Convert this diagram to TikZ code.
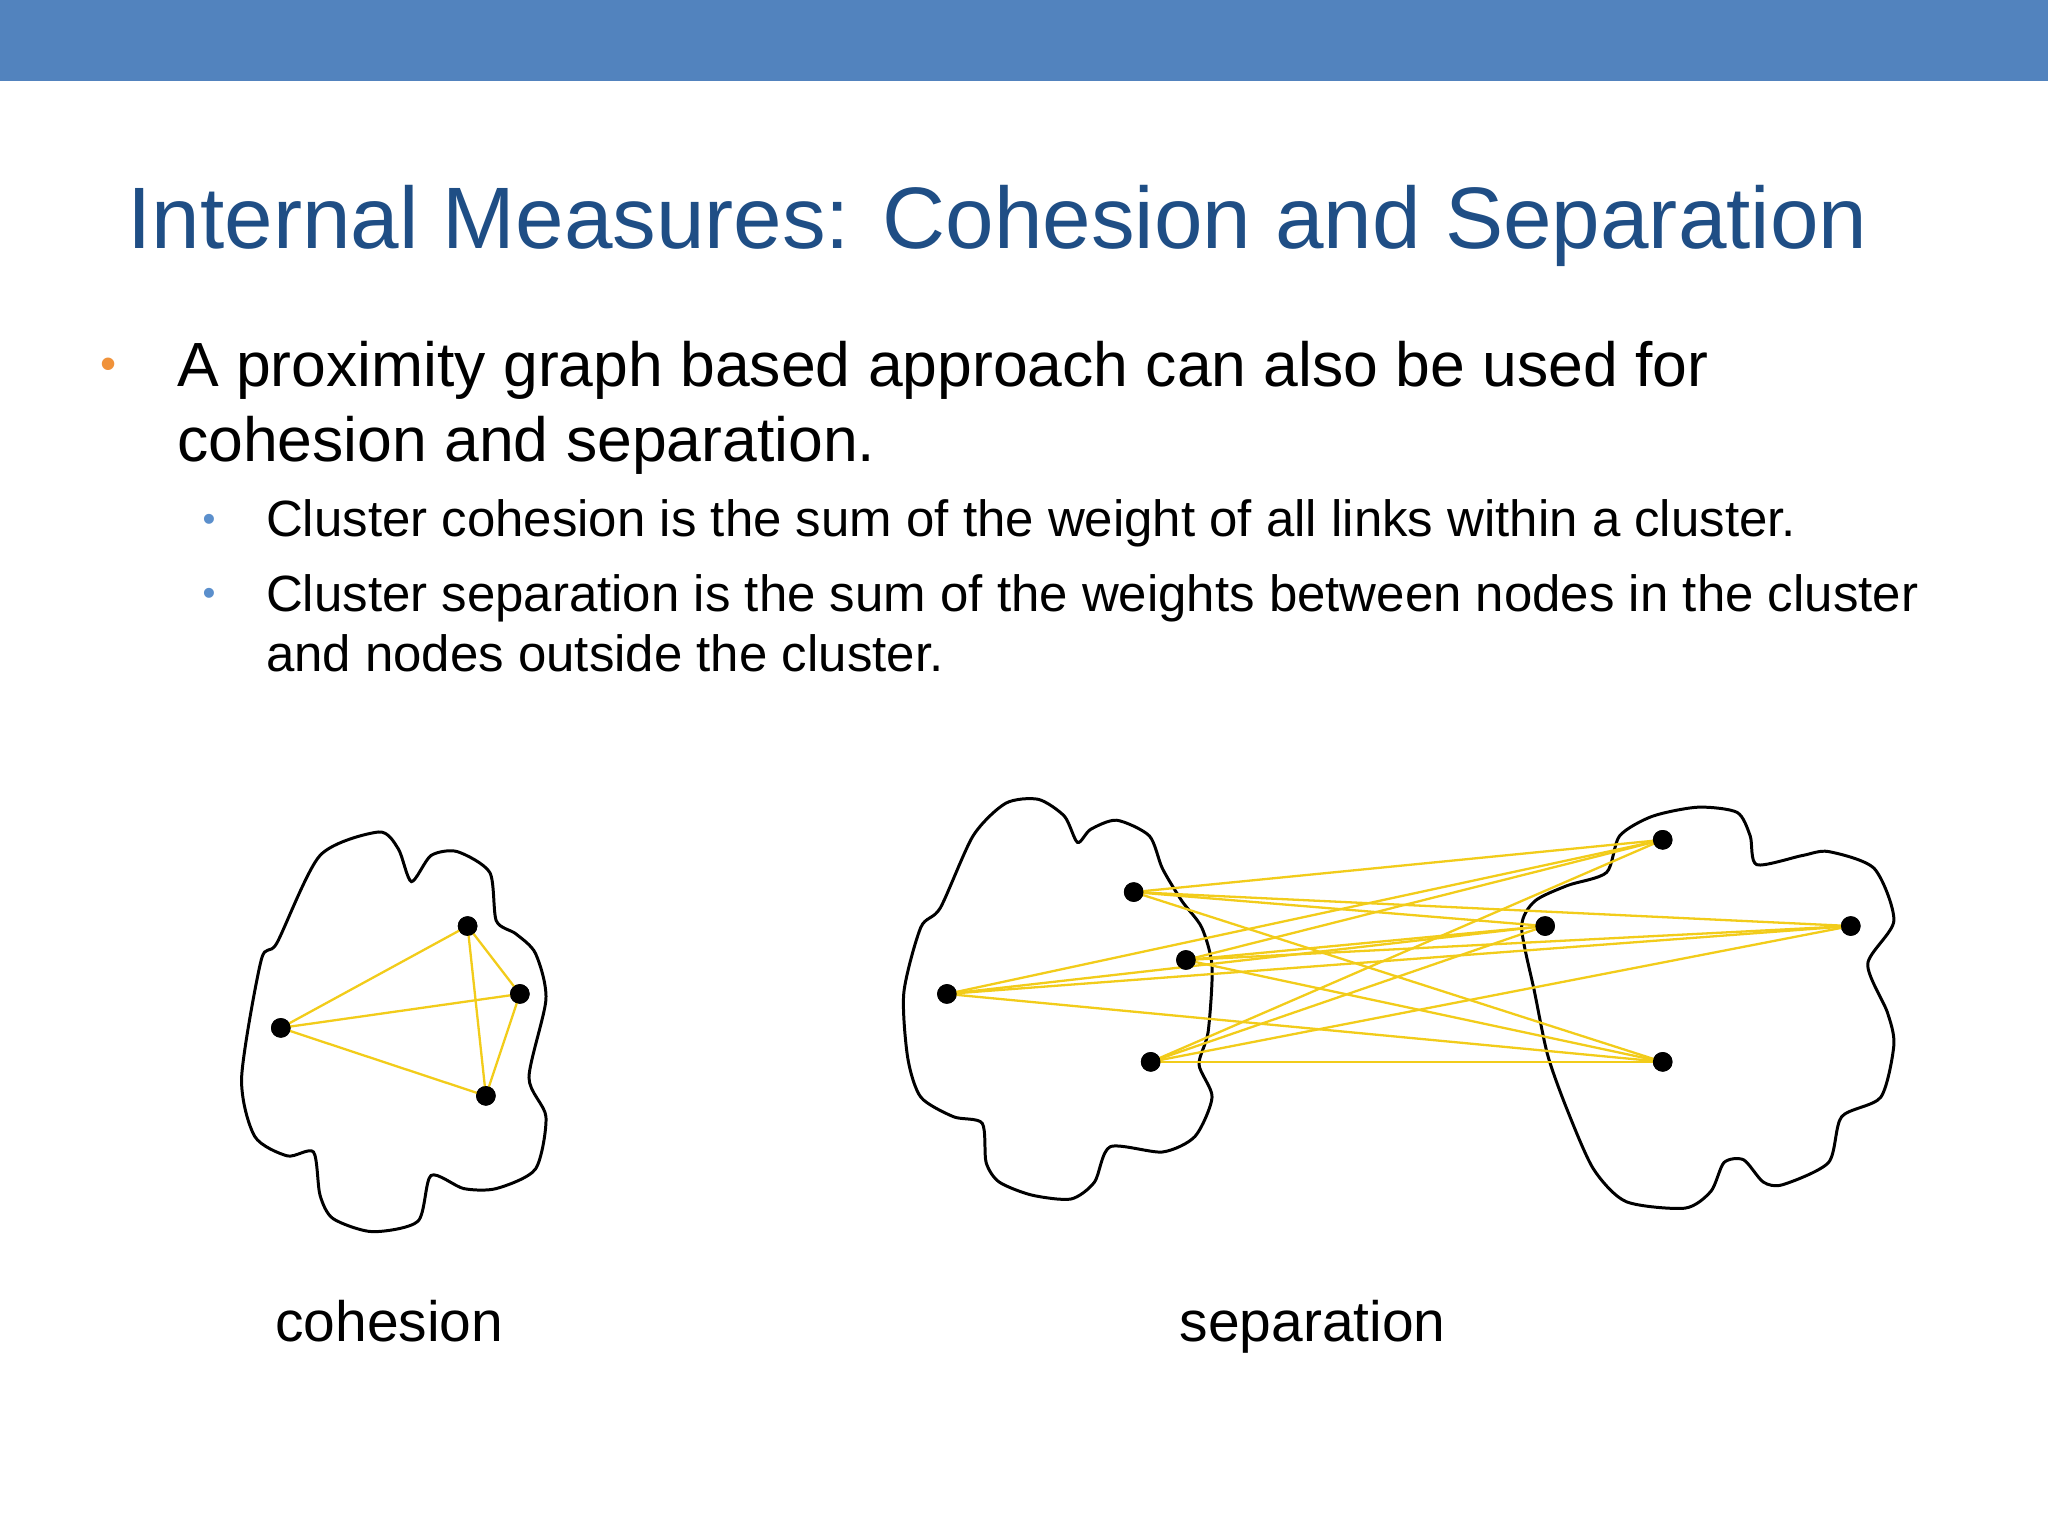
\documentclass[tikz,border=0pt]{standalone}
\usepackage{fontspec}
\setmainfont{Liberation Sans}
\definecolor{bar}{HTML}{5283BE}
\definecolor{ttl}{HTML}{1F4E85}
\definecolor{lnk}{HTML}{F2CC1A}
\definecolor{ob}{HTML}{F0923A}
\definecolor{bb}{HTML}{5B8FCC}
\begin{document}
\begin{tikzpicture}[x=0.01cm,y=-0.01cm,
  pt/.style={circle,fill=black,inner sep=0pt,minimum size=0.15cm},
  link/.style={lnk,line width=0.5pt},
  blob/.style={draw=black,line width=0.65pt},
  txt/.style={anchor=base west,inner sep=0},
  big/.style={txt,font=\fontsize{13.6}{16}\selectfont},
  small/.style={txt,font=\fontsize{11.1}{13}\selectfont}]
\useasboundingbox (0,0) rectangle (1568,1176);
\fill[white] (0,0) rectangle (1568,1176);
\fill[bar] (0,0) rectangle (1568,62);
\node[txt,text=ttl,font=\fontsize{19}{23}\selectfont] (title) at (97,190) {Internal Measures: Cohesion and Separation};
\node[text=ob,font=\fontsize{10}{12}\selectfont] (b1) at (83,282) {•};
\node[big] (t1a) at (135,296) {A proximity graph based approach can also be used for};
\node[big] (t1b) at (135,353) {cohesion and separation.};
\node[text=bb,font=\fontsize{8}{10}\selectfont] (b2) at (160,400) {•};
\node[small] (t2) at (203,411) {Cluster cohesion is the sum of the weight of all links within a cluster.};
\node[text=bb,font=\fontsize{8}{10}\selectfont] (b3) at (160,457) {•};
\node[small] (t3a) at (203,468) {Cluster separation is the sum of the weights between nodes in the cluster};
\node[small] (t3b) at (203,514) {and nodes outside the cluster.};
% blobs
\draw[blob] plot[smooth cycle,tension=0.45] coordinates {(212,722)(245,655)(290,637)(305,650)(315,675)(330,655)(350,652)(375,668)(380,705)(395,715)(410,730)(418,765)(405,825)(418,855)(410,895)(380,910)(355,910)(330,900)(320,935)(285,943)(255,933)(245,915)(240,882)(220,885)(195,870)(185,825)(200,735)};
\draw[blob] plot[smooth cycle,tension=0.45] coordinates {(720,695)(745,640)(770,615)(795,612)(815,625)(825,645)(835,635)(855,628)(880,640)(890,665)(905,690)(920,710)(928,740)(925,790)(918,815)(928,840)(915,870)(890,882)(850,878)(838,905)(820,918)(790,915)(765,905)(755,890)(752,860)(730,855)(705,840)(695,810)(692,760)(705,710)};
\draw[blob] plot[smooth cycle,tension=0.45] coordinates {(1240,640)(1265,625)(1300,618)(1330,622)(1340,640)(1345,662)(1380,655)(1400,652)(1435,665)(1450,705)(1430,738)(1445,775)(1450,800)(1440,840)(1410,855)(1400,890)(1365,907)(1350,905)(1335,888)(1320,890)(1310,912)(1290,925)(1245,920)(1220,895)(1200,850)(1185,808)(1175,760)(1165,710)(1175,690)(1200,678)(1230,668)};
% cohesion points
\node[pt] (c1) at (215,787) {};
\node[pt] (c2) at (358,709) {};
\node[pt] (c3) at (398,761) {};
\node[pt] (c4) at (372,839) {};
\foreach \a/\b in {c1/c2,c1/c3,c1/c4,c2/c3,c2/c4,c3/c4} \draw[link] (\a.center) -- (\b.center);
% separation
\node[pt] (l1) at (725,761) {};
\node[pt] (l2) at (868,683) {};
\node[pt] (l3) at (908,735) {};
\node[pt] (l4) at (881,813) {};
\node[pt] (r1) at (1273,643) {};
\node[pt] (r2) at (1183,709) {};
\node[pt] (r3) at (1417,709) {};
\node[pt] (r4) at (1273,813) {};
\foreach \a in {l1,l2,l3,l4} \foreach \b in {r1,r2,r3,r4} \draw[link] (\a.center) -- (\b.center);
\foreach \p in {c1,c2,c3,c4,l1,l2,l3,l4,r1,r2,r3,r4} \fill (\p) circle (7.5);
\node[anchor=base,font=\fontsize{12.4}{14}\selectfont,inner sep=0] (lc) at (298,1027) {cohesion};
\node[anchor=base,font=\fontsize{12.4}{14}\selectfont,inner sep=0] (ls) at (1005,1027) {separation};
\end{tikzpicture}
\end{document}
